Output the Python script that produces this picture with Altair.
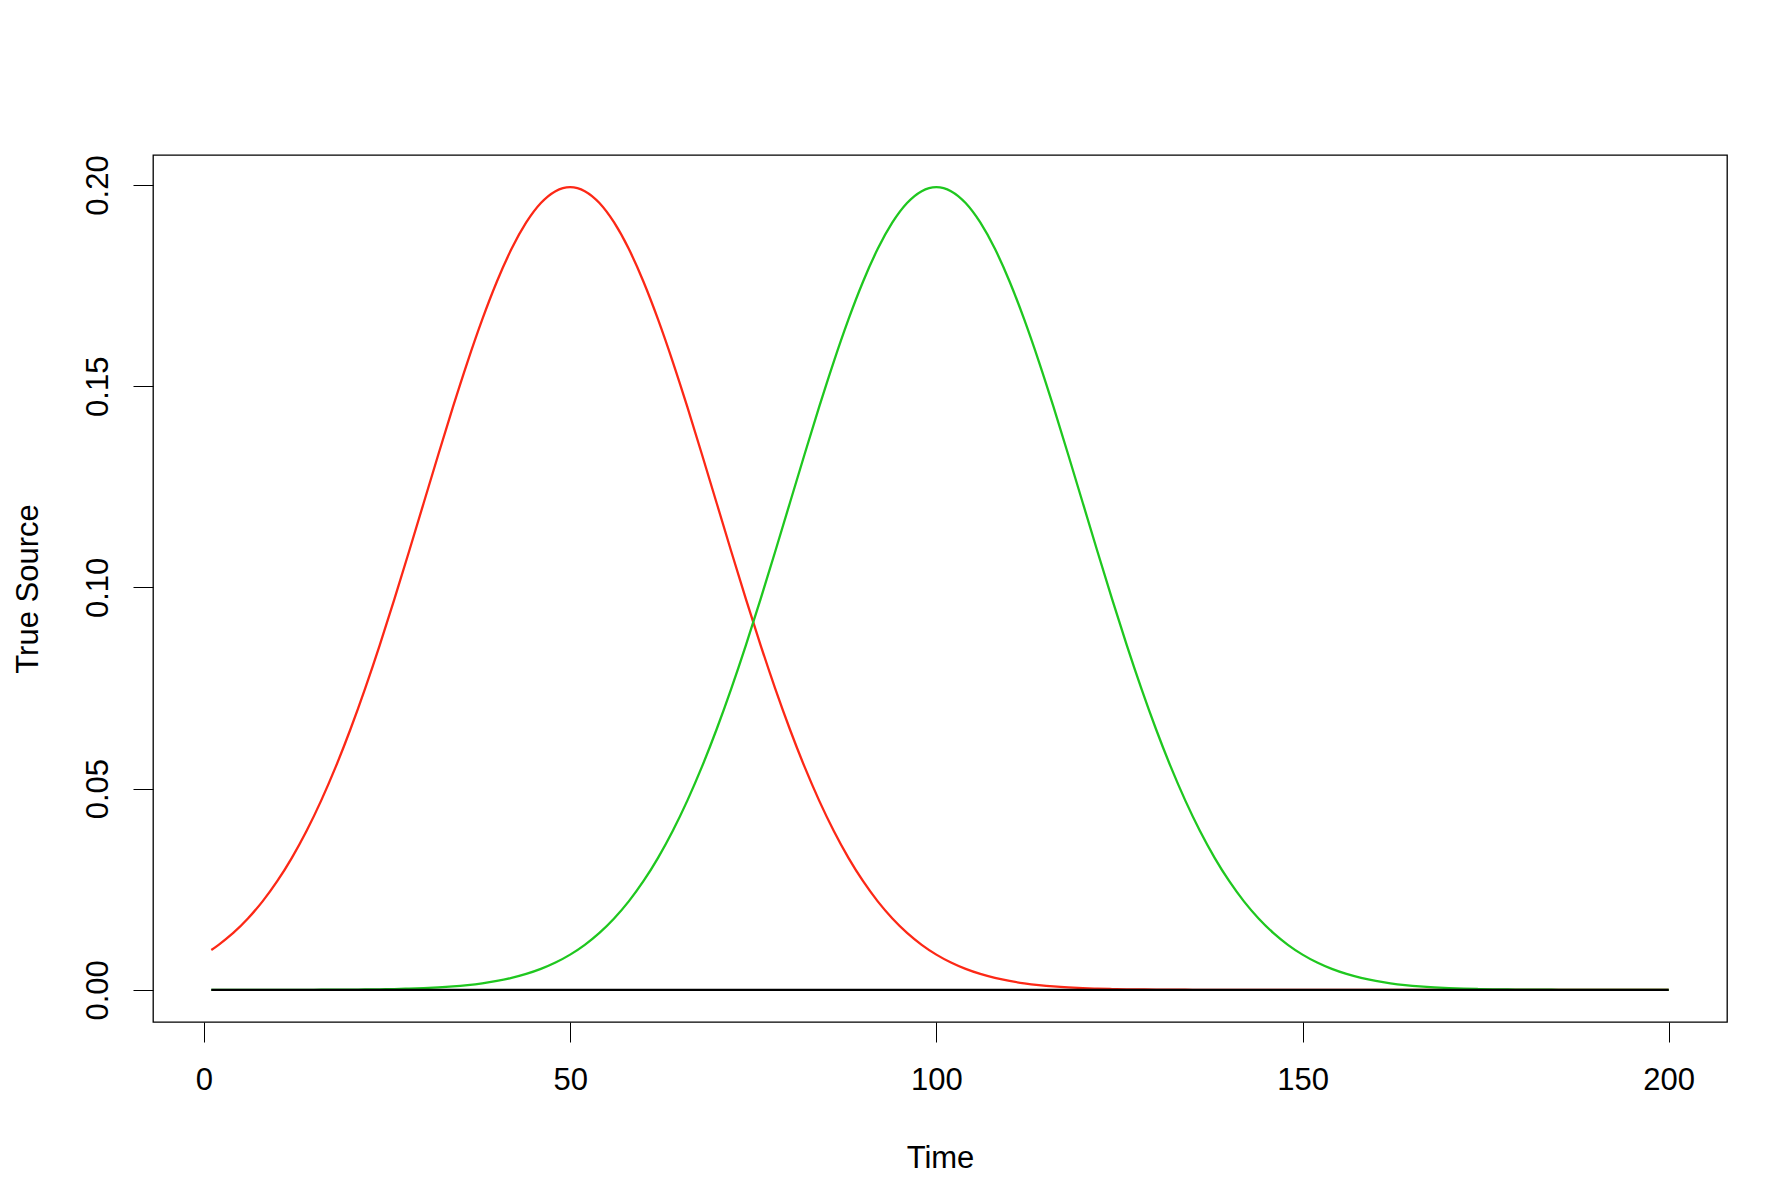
import altair as alt
import pandas as pd

# Time points (x)
time = [1] + list(range(2, 201, 2))

# Red source (peak at t=50)
red_source = [
    0.00992, 0.01120, 0.01416, 0.01774, 0.02199, 0.02700, 0.03281, 0.03948,
    0.04703, 0.05546, 0.06476, 0.07486, 0.08568, 0.09709, 0.10893, 0.12099,
    0.13304, 0.14485, 0.15613, 0.16661, 0.17603, 0.18414, 0.19069, 0.19552,
    0.19847, 0.19947,
    0.19847, 0.19552, 0.19069, 0.18414, 0.17603, 0.16661, 0.15613, 0.14485,
    0.13304, 0.12099, 0.10893, 0.09709, 0.08568, 0.07486, 0.06476, 0.05546,
    0.04703, 0.03948, 0.03281, 0.02700, 0.02199, 0.01774, 0.01416, 0.01120,
    0.00876,
    0.00679, 0.00521, 0.00396, 0.00298, 0.00222, 0.00163, 0.00119, 0.00086,
    0.00062, 0.00044, 0.00031, 0.00021, 0.00015, 0.00010, 0.00007, 0.00004,
    0.00003, 0.00002, 0.00001, 0.00001,
    0, 0, 0, 0, 0, 0, 0, 0, 0, 0,
    0, 0, 0, 0, 0, 0, 0, 0, 0, 0,
    0, 0, 0, 0, 0, 0, 0, 0, 0, 0,
]

# Green source (peak at t=100)
green_source = [
    0, 0, 0, 0, 0,
    0.00001, 0.00001, 0.00002, 0.00003, 0.00004, 0.00007, 0.00010, 0.00015,
    0.00021, 0.00031, 0.00044, 0.00062, 0.00086, 0.00119, 0.00163, 0.00222,
    0.00298, 0.00396, 0.00521, 0.00679,
    0.00876, 0.01120, 0.01416, 0.01774, 0.02199, 0.02700, 0.03281, 0.03948,
    0.04703, 0.05546, 0.06476, 0.07486, 0.08568, 0.09709, 0.10893, 0.12099,
    0.13304, 0.14485, 0.15613, 0.16661, 0.17603, 0.18414, 0.19069, 0.19552,
    0.19847,
    0.19947,
    0.19847, 0.19552, 0.19069, 0.18414, 0.17603, 0.16661, 0.15613, 0.14485,
    0.13304, 0.12099, 0.10893, 0.09709, 0.08568, 0.07486, 0.06476, 0.05546,
    0.04703, 0.03948, 0.03281, 0.02700, 0.02199, 0.01774, 0.01416, 0.01120,
    0.00876,
    0.00679, 0.00521, 0.00396, 0.00298, 0.00222, 0.00163, 0.00119, 0.00086,
    0.00062, 0.00044, 0.00031, 0.00021, 0.00015, 0.00010, 0.00007, 0.00004,
    0.00003, 0.00002, 0.00001, 0.00001,
    0, 0, 0, 0, 0,
]

# Black source (flat at zero)
black_source = [0.0] * len(time)

x_ticks = [0, 50, 100, 150, 200]
y_ticks = [0.00, 0.05, 0.10, 0.15, 0.20]

df = pd.DataFrame({
    "Time": time,
    "red": red_source,
    "green": green_source,
    "black": black_source,
})

FONT = "Liberation Sans"
FS = 31

x_enc = alt.X(
    "Time:Q",
    scale=alt.Scale(domain=[-6.96, 207.96], nice=False, zero=False),
    axis=alt.Axis(
        values=x_ticks, format="d", title="Time",
        grid=False, domain=False, tickSize=20, tickColor="black", tickWidth=1,
        labelFontSize=FS, labelFont=FONT, labelColor="black", labelPadding=23,
        labelOverlap=False, labelFlush=False, labelBound=False,
        titleFontSize=FS, titleFont=FONT, titleColor="black",
        titleFontWeight="normal", titleY=145, titleBaseline="alphabetic",
    ),
)

def y_enc(field):
    return alt.Y(
        f"{field}:Q",
        scale=alt.Scale(domain=[-0.00798, 0.20745], nice=False, zero=False),
        axis=alt.Axis(
            values=y_ticks, format=".2f", title="True Source",
            grid=False, domain=False, tickSize=20, tickColor="black", tickWidth=1,
            labelFontSize=FS, labelFont=FONT, labelColor="black",
            labelAngle=270, labelAlign="center", labelBaseline="bottom",
            labelPadding=19, labelOverlap=False, labelFlush=False, labelBound=False,
            titleFontSize=FS, titleFont=FONT, titleColor="black",
            titleFontWeight="normal", titleX=-116, titleBaseline="alphabetic",
        ),
    )

base = alt.Chart(df)
red_line = base.mark_line(color="#FC2816", strokeWidth=2.3, interpolate="natural").encode(
    x=x_enc, y=y_enc("red"))
green_line = base.mark_line(color="#1FC71F", strokeWidth=2.3, interpolate="natural").encode(
    x=x_enc, y=y_enc("green"))
black_line = base.mark_line(color="black", strokeWidth=2.3).encode(
    x=x_enc, y=y_enc("black"))

chart = alt.layer(red_line, green_line, black_line).properties(
    width=1574,
    height=867,
    autosize=alt.AutoSizeParams(type="none"),
    padding={"left": 145, "top": 147, "right": 50, "bottom": 160},
    background="white",
).configure_view(
    stroke="black", strokeWidth=1.3
)

chart.save("out.html", embed_options={"renderer": "svg", "actions": False})
